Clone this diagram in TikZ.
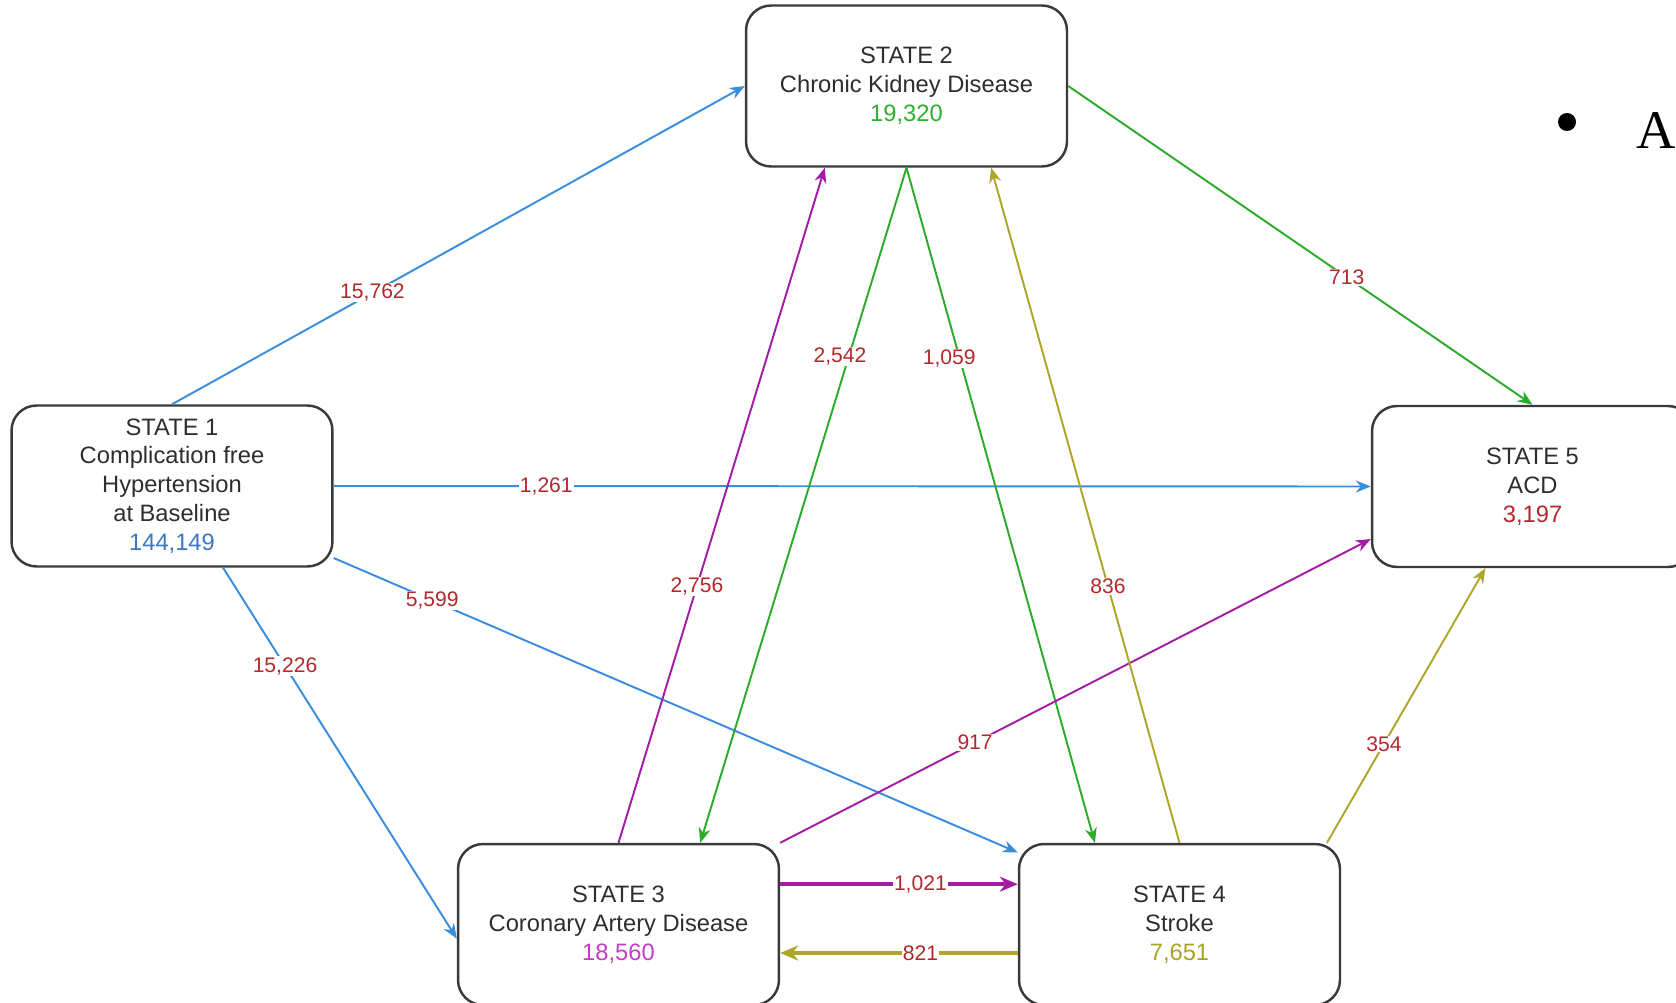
\documentclass[tikz,border=0pt]{standalone}
\usepackage{fontspec}
\setmainfont{Liberation Sans}
\newfontfamily\bodyserif{Liberation Serif}
\usetikzlibrary{arrows.meta}
\definecolor{boxgray}{HTML}{3A3A3A}
\definecolor{textgray}{HTML}{2E2E2E}
\definecolor{numred}{HTML}{B3282D}
\definecolor{trblue}{HTML}{3A8CDE}
\definecolor{trgreen}{HTML}{2BAA2B}
\definecolor{trpurple}{HTML}{A21CA6}
\definecolor{trolive}{HTML}{AEA628}
\definecolor{nblue}{HTML}{3B78C2}
\definecolor{ngreen}{HTML}{2EAF2E}
\definecolor{npurple}{HTML}{C23EC6}
\definecolor{nolive}{HTML}{A6A424}
\begin{document}
\begin{tikzpicture}[x=0.02cm,y=-0.02cm,
  state/.style={draw=boxgray,line width=1.4pt,rounded corners=0.5cm,fill=white,
    minimum width=6.42cm,minimum height=3.22cm,align=center,text=textgray,
    font=\fontsize{13.5}{16.4}\selectfont},
  flow/.style={line width=1.1pt,-{Stealth[length=0.3cm,width=0.24cm]}},
  bigflow/.style={line width=2pt,-{Stealth[length=0.36cm,width=0.3cm]}},
  count/.style={fill=white,inner sep=0.5pt,text=numred,font=\fontsize{12}{14}\selectfont}]
\useasboundingbox (0,0) rectangle (1676,1003);
%
\node[state] (s1) at (172,486)
  {STATE 1\\Complication free\\Hypertension\\at Baseline\\\textcolor{nblue}{144,149}};
\node[state] (s2) at (906.5,86)
  {STATE 2\\Chronic Kidney Disease\\\textcolor{ngreen}{19,320}};
\node[state] (s3) at (618.5,924.5)
  {STATE 3\\Coronary Artery Disease\\\textcolor{npurple}{18,560}};
\node[state] (s4) at (1179.5,924.5)
  {STATE 4\\Stroke\\\textcolor{nolive}{7,651}};
\node[state] (s5) at (1532.5,486.5)
  {STATE 5\\ACD\\\textcolor{numred}{3,197}};
%
\draw[flow,trblue] (s1.north) -- (s2.west) node[count,pos=0.35]{15,762};
\draw[flow,trblue] (s1.east) -- (s5.west) node[count,pos=0.205]{1,261};
\draw[flow,trblue] (s1.-24) -- (s4.156) node[count,pos=0.144]{5,599};
\draw[flow,trblue] (s1.-58) -- (s3.185) node[count,pos=0.265]{15,226};
%
\draw[flow,trgreen] (s2.east) -- (s5.north) node[count,pos=0.6]{713};
\draw[flow,trgreen] (s2.south) -- (s3.45) node[count,pos=0.28,xshift=-5]{2,542};
\draw[flow,trgreen] (s2.south) -- (s4.136) node[count,pos=0.283,xshift=-6]{1,059};
%
\draw[flow,trpurple] (s3.north) -- (s2.225) node[count,pos=0.38]{2,756};
\draw[flow,trpurple] (s3.north east) -- (s5.198) node[count,pos=0.33]{917};
\draw[bigflow,trpurple] (s3.14) -- (s4.166) node[count,pos=0.59]{1,021};
%
\draw[flow,trolive] (s4.north) -- (s2.-44) node[count,pos=0.38]{836};
\draw[flow,trolive] (s4.29) -- (s5.240) node[count,pos=0.36]{354};
\draw[bigflow,trolive] (s4.190) -- (s3.-10) node[count,pos=0.41]{821};
%
\fill (1567,122) circle (0.18cm);
\node[anchor=west,inner sep=0pt,font=\bodyserif\fontsize{31}{36}\selectfont] (bulletA) at (1636,131) {A};
\end{tikzpicture}
\end{document}
